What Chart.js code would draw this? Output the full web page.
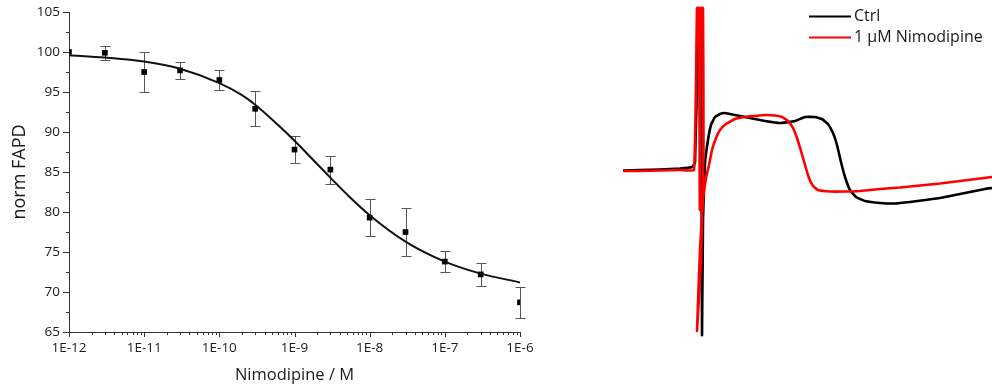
<!DOCTYPE html>
<html>
<head>
<meta charset="utf-8">
<script src="https://cdn.jsdelivr.net/npm/chart.js@4.4.1/dist/chart.umd.min.js"></script>
<style>
  html, body { margin: 0; padding: 0; background: #fff; }
  #wrap { position: relative; width: 992px; height: 389px; }
  #doseChart { position: absolute; left: 0; top: 0; }
  #traceChart { position: absolute; left: 600px; top: 0; }
</style>
</head>
<body>
<div id="wrap">
  <canvas id="doseChart" width="600" height="389"></canvas>
  <canvas id="traceChart" width="392" height="389"></canvas>
</div>
<script>
// --- dose response (left) ---
const conc = [1e-12, 3e-12, 1e-11, 3e-11, 1e-10, 3e-10, 1e-9, 3e-9, 1e-8, 3e-8, 1e-7, 3e-7, 1e-6];
const fapd = [100.0, 99.9, 97.5, 97.7, 96.5, 92.9, 87.8, 85.3, 79.3, 77.5, 73.8, 72.2, 68.7];
const fapdErr = [0, 0.85, 2.5, 1.1, 1.3, 2.2, 1.65, 1.75, 2.35, 3.05, 1.3, 1.4, 1.95];

// fitted curve
const fitConc = [1e-12, 3e-12, 1e-11, 3e-11, 1e-10, 2e-10, 3e-10, 6e-10, 1e-9, 2e-9, 3e-9, 5e-9, 1e-8, 3e-8, 1e-7, 3e-7, 1e-6];
const fitVal = [99.6, 99.3, 98.8, 97.9, 96.1, 94.6, 93.4, 90.9, 88.9, 86.0, 84.3, 82.2, 79.6, 76.3, 73.8, 72.3, 71.2];

const decades = [1e-12, 1e-11, 1e-10, 1e-9, 1e-8, 1e-7, 1e-6];
const xTickLabels = ['1E-12', '1E-11', '1E-10', '1E-9', '1E-8', '1E-7', '1E-6'];

// --- AP traces (right), time in ms, amplitude in a.u. ---
const ctrlT = [1, 18, 38, 58, 70, 73, 77, 79, 80, 81, 83, 86, 89, 93, 98, 103, 113, 128, 143, 158, 173, 183, 193, 200, 206, 211, 215, 219, 223, 228, 234, 243, 258, 273, 288, 303, 318, 333, 348, 363, 370];
const ctrlV = [-0.5, 0, 0.5, 1.5, 3, 7, 160, 160, -165, -50, 7, 30, 45, 53, 56, 57, 55, 52, 49, 47, 49, 53, 53, 51, 46, 37, 25, 8, -7, -20, -27, -31, -33, -33.5, -32, -30, -28, -25, -22, -19, -18];
const nimoT = [1, 18, 38, 58, 72, 75, 77, 77.8, 78.6, 81, 81.5, 79, 75, 78, 81, 84, 87, 90, 94, 98, 104, 113, 123, 133, 143, 153, 160, 166, 171, 175, 179, 183, 187, 191, 196, 208, 223, 238, 258, 278, 298, 318, 338, 358, 370];
const nimoV = [-1, -1, -0.5, 0, 0, 162, 162, -40, 162, 162, 20, -90, -161, -80, -30, -8, 5, 20, 32, 40, 46, 51, 53, 54, 55, 54.5, 53, 49, 42, 32, 19, 5, -8, -16, -20, -21.5, -21.5, -21, -19, -17.5, -15.5, -13.5, -11, -8.5, -7];

Chart.defaults.font.family = '"Open Sans", sans-serif';
Chart.defaults.color = '#1a1a1a';
Chart.defaults.animation = false;

const errorBars = {
  id: 'errorBars',
  beforeDatasetsDraw(chart) {
    const {ctx, scales: {x, y}} = chart;
    ctx.save();
    ctx.strokeStyle = '#555';
    ctx.lineWidth = 1;
    ctx.beginPath();
    conc.forEach((c, i) => {
      if (!fapdErr[i]) return;
      const px = Math.round(x.getPixelForValue(c)) + 0.5;
      const top = Math.round(y.getPixelForValue(fapd[i] + fapdErr[i])) + 0.5;
      const bot = Math.round(y.getPixelForValue(fapd[i] - fapdErr[i])) + 0.5;
      ctx.moveTo(px, top); ctx.lineTo(px, bot);
      ctx.moveTo(px - 5, top); ctx.lineTo(px + 5, top);
      ctx.moveTo(px - 5, bot); ctx.lineTo(px + 5, bot);
    });
    ctx.stroke();
    ctx.restore();
  }
};

const axisTicks = {
  id: 'axisTicks',
  afterDraw(chart) {
    const {ctx, chartArea, scales: {x, y}} = chart;
    ctx.save();
    ctx.strokeStyle = '#333';
    ctx.lineWidth = 1;
    ctx.beginPath();
    x.ticks.forEach(t => {
      const px = Math.round(x.getPixelForValue(t.value)) + 0.5;
      ctx.moveTo(px, chartArea.bottom);
      ctx.lineTo(px, chartArea.bottom + (t.label ? 5 : 3));
    });
    y.ticks.forEach(t => {
      const py = Math.round(y.getPixelForValue(t.value)) + 0.5;
      ctx.moveTo(chartArea.left, py);
      ctx.lineTo(chartArea.left - (t.label ? 6 : 3), py);
    });
    ctx.stroke();
    ctx.restore();
  }
};

new Chart(document.getElementById('doseChart'), {
  type: 'scatter',
  data: {
    datasets: [
      {
        label: 'fit',
        data: fitConc.map((c, i) => ({x: c, y: fitVal[i]})),
        showLine: true,
        borderColor: '#111',
        borderWidth: 2,
        pointRadius: 0,
        cubicInterpolationMode: 'monotone'
      },
      {
        label: 'norm FAPD',
        data: conc.map((c, i) => ({x: c, y: fapd[i]})),
        pointStyle: 'rect',
        pointRadius: 4,
        backgroundColor: '#000',
        borderColor: '#000',
        borderWidth: 0
      }
    ]
  },
  options: {
    responsive: false,
    layout: {padding: {left: 0, top: 12, right: 80, bottom: 0}},
    plugins: {legend: {display: false}, tooltip: {enabled: false}},
    scales: {
      x: {
        type: 'logarithmic',
        min: 1e-12,
        max: 1e-6,
        afterBuildTicks: s => {
          s.ticks = [];
          decades.forEach((d, i) => {
            s.ticks.push({value: d});
            if (i < decades.length - 1) {
              for (let m = 2; m <= 9; m++) s.ticks.push({value: d * m});
            }
          });
        },
        afterFit: s => { s.height = 57; },
        grid: {display: false, drawTicks: true, tickLength: 5},
        border: {display: true, color: '#333', width: 1},
        ticks: {
          autoSkip: false,
          maxRotation: 0,
          padding: 3,
          font: {size: 13.5},
          callback: v => {
            const i = decades.findIndex(d => Math.abs(d - v) / d < 1e-6);
            return i >= 0 ? xTickLabels[i] : '';
          }
        },
        title: {display: true, text: 'Nimodipine / M', font: {size: 16.5}, padding: {top: 0, bottom: 4}}
      },
      y: {
        min: 65,
        max: 105,
        afterFit: s => { s.width = 69; },
        grid: {display: false, drawTicks: true, tickLength: 6},
        border: {display: true, color: '#333', width: 1},
        ticks: {
          stepSize: 2.5,
          padding: 3,
          font: {size: 13.5},
          callback: v => (v % 5 === 0 ? String(v) : '')
        },
        title: {display: true, text: 'norm FAPD', font: {size: 18}, padding: {top: 9, bottom: 0}}
      }
    }
  },
  plugins: [errorBars, axisTicks]
});

const traceLegend = {
  id: 'traceLegend',
  afterDraw(chart) {
    const ctx = chart.ctx;
    ctx.save();
    ctx.font = '16px "Open Sans", sans-serif';
    ctx.textBaseline = 'middle';
    chart.data.datasets.forEach((ds, i) => {
      const y = 16.5 + i * 21;
      ctx.strokeStyle = ds.borderColor;
      ctx.lineWidth = 2;
      ctx.beginPath();
      ctx.moveTo(209, y);
      ctx.lineTo(251, y);
      ctx.stroke();
      ctx.fillStyle = '#1a1a1a';
      ctx.fillText(ds.label, 254, y);
    });
    ctx.restore();
  }
};

new Chart(document.getElementById('traceChart'), {
  type: 'scatter',
  data: {
    datasets: [
      {
        label: 'Ctrl',
        data: ctrlT.map((t, i) => ({x: t, y: ctrlV[i]})),
        showLine: true,
        borderColor: '#000',
        borderWidth: 2.6,
        pointRadius: 0,
        tension: 0.1,
        order: 1
      },
      {
        label: '1 µM Nimodipine',
        data: nimoT.map((t, i) => ({x: t, y: nimoV[i]})),
        showLine: true,
        borderColor: '#ff0000',
        borderWidth: 2.6,
        pointRadius: 0,
        tension: 0.1,
        order: 0
      }
    ]
  },
  options: {
    responsive: false,
    layout: {padding: 0},
    plugins: {legend: {display: false}, tooltip: {enabled: false}},
    scales: {
      x: {type: 'linear', display: false, min: -22, max: 370},
      y: {type: 'linear', display: false, min: -219, max: 170}
    }
  },
  plugins: [traceLegend]
});
</script>
</body>
</html>
